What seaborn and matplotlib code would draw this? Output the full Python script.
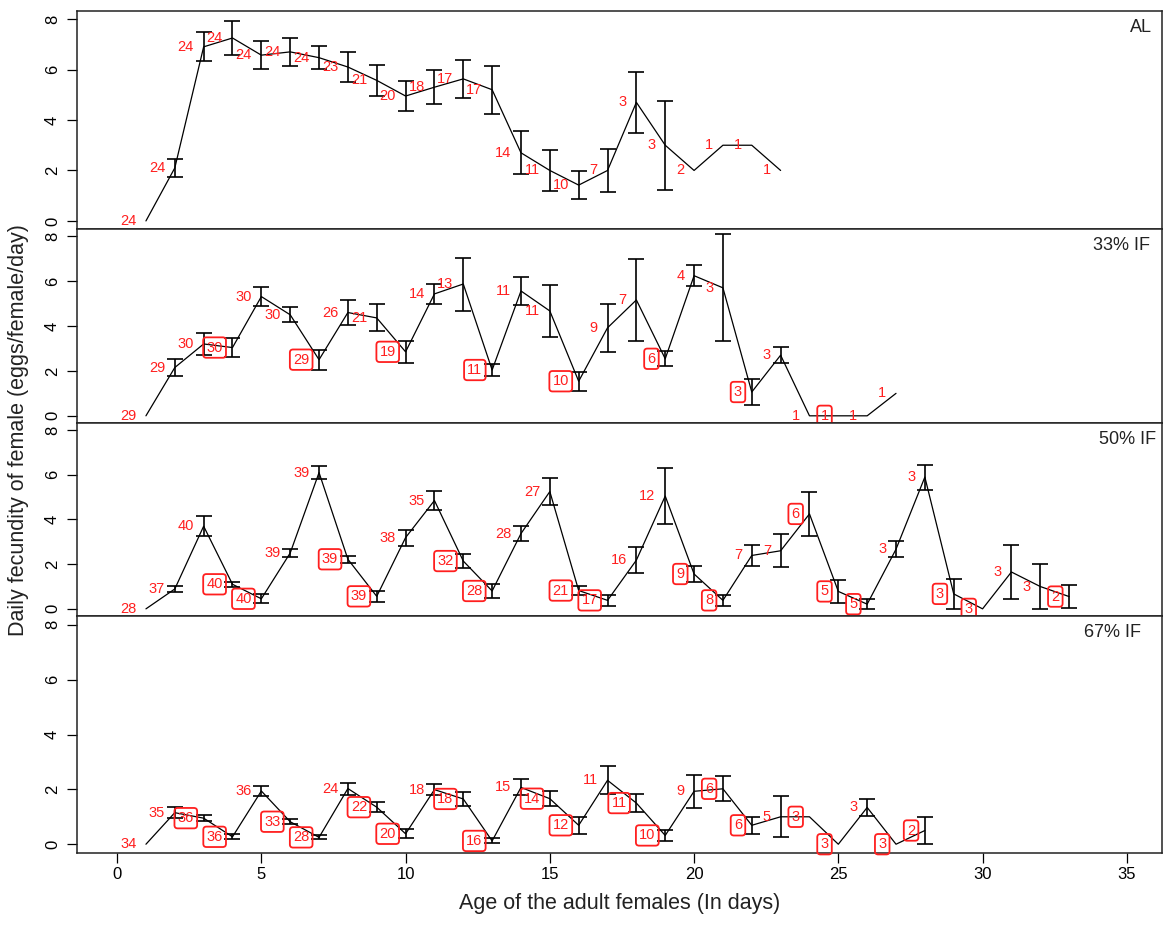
import numpy as np
import pandas as pd
import matplotlib
matplotlib.use("Agg")
import matplotlib.pyplot as plt
import seaborn as sns

nan = np.nan

# ---------------- data ----------------
panel_names = ["AL", "33% IF", "50% IF", "67% IF"]

days_al = list(range(1, 24))
mean_al = [0, 2.1, 6.9, 7.25, 6.57, 6.7, 6.47, 6.1, 5.57, 4.95, 5.3, 5.63, 5.2,
           2.7, 2.0, 1.42, 2.0, 4.7, 3.0, 2.0, 3.0, 3.0, 2.0]
err_al = [nan, 0.34, 0.58, 0.69, 0.56, 0.54, 0.46, 0.6, 0.6, 0.61, 0.67, 0.75, 0.95,
          0.85, 0.8, 0.54, 0.86, 1.2, 1.77, nan, nan, nan, nan]
n_al = [24, 24, 24, 24, 24, 24, 24, 23, 21, 20, 18, 17, 17, 14, 11, 10, 7, 3, 3, 2, 1, 1, 1]
box_al = [0] * 23

days_33 = list(range(1, 28))
mean_33 = [0, 2.15, 3.2, 3.04, 5.31, 4.5, 2.5, 4.6, 4.36, 2.85, 5.43, 5.87, 2.04,
           5.56, 4.67, 1.54, 3.92, 5.16, 2.54, 6.24, 5.7, 1.06, 2.7, 0, 0, 0, 1.0]
err_33 = [nan, 0.39, 0.48, 0.43, 0.44, 0.34, 0.45, 0.57, 0.6, 0.5, 0.45, 1.18, 0.25,
          0.64, 1.16, 0.42, 1.06, 1.84, 0.33, 0.48, 2.39, 0.56, 0.35, nan, nan, nan, nan]
n_33 = [29, 29, 30, 30, 30, 30, 29, 26, 21, 19, 14, 13, 11, 11, 11, 10, 9, 7, 6, 4,
        3, 3, 3, 1, 1, 1, 1]
box_33 = [0, 0, 0, 1, 0, 0, 1, 0, 0, 1, 0, 0, 1, 0, 0, 1, 0, 0, 1, 0, 0, 1, 0, 0, 1, 0, 0]

days_50 = list(range(1, 34))
mean_50 = [0, 0.89, 3.7, 1.1, 0.45, 2.5, 6.1, 2.22, 0.56, 3.19, 4.85, 2.14, 0.8,
           3.37, 5.25, 0.82, 0.38, 2.18, 5.05, 1.56, 0.38, 2.39, 2.6, 4.25, 0.78,
           0.21, 2.67, 5.9, 0.67, 0, 1.65, 1.0, 0.55]
err_50 = [nan, 0.13, 0.45, 0.11, 0.2, 0.18, 0.3, 0.15, 0.25, 0.36, 0.41, 0.33, 0.3,
          0.35, 0.59, 0.2, 0.25, 0.57, 1.27, 0.35, 0.25, 0.48, 0.73, 1.0, 0.5,
          0.21, 0.36, 0.56, 0.68, nan, 1.19, 1.0, 0.5]
n_50 = [28, 37, 40, 40, 40, 39, 39, 39, 39, 38, 35, 32, 28, 28, 27, 21, 17, 16, 12,
        9, 8, 7, 7, 6, 5, 5, 3, 3, 3, 3, 3, 3, 2]
box_50 = [0, 0, 0, 1, 1, 0, 0, 1, 1, 0, 0, 1, 1, 0, 0, 1, 1, 0, 0, 1, 1, 0, 0, 1, 1,
          1, 0, 0, 1, 1, 0, 0, 1]

days_67 = list(range(1, 29))
mean_67 = [0, 1.15, 0.95, 0.27, 1.94, 0.82, 0.25, 2.03, 1.35, 0.38, 1.99, 1.65, 0.12,
           2.07, 1.66, 0.69, 2.33, 1.5, 0.32, 1.93, 2.02, 0.69, 1.0, 1.0, 0, 1.34, 0, 0.5]
err_67 = [nan, 0.19, 0.1, 0.09, 0.19, 0.09, 0.07, 0.22, 0.18, 0.16, 0.21, 0.24, 0.09,
          0.29, 0.27, 0.31, 0.51, 0.33, 0.2, 0.6, 0.45, 0.31, 0.75, nan, nan, 0.31, nan, 0.5]
n_67 = [34, 35, 36, 36, 36, 33, 28, 24, 22, 20, 18, 18, 16, 15, 14, 12, 11, 11, 10, 9,
        6, 6, 5, 3, 3, 3, 3, 2]
box_67 = [0, 0, 1, 1, 0, 1, 1, 0, 1, 1, 0, 1, 1, 0, 1, 1, 0, 1, 1, 0, 1, 1, 0, 1, 1, 0, 1, 1]

y_ticks = [0, 2, 4, 6, 8]
x_ticks = [0, 5, 10, 15, 20, 25, 30, 35]
x_label = "Age of the adult females (In days)"
y_label = "Daily fecundity of female (eggs/female/day)"

# ---------------- figure ----------------
sns.set_theme(style="white")
plt.rcParams["font.family"] = ["Liberation Sans", "DejaVu Sans"]

W, H = 1163, 932
fig = plt.figure(figsize=(W / 100, H / 100), dpi=100)
gs = fig.add_gridspec(4, 1, left=77 / W, right=1162 / W, top=1 - 11 / H,
                      bottom=1 - 853 / H, height_ratios=[218, 194, 193, 237], hspace=0)

panels = [
    (days_al, mean_al, err_al, n_al, box_al),
    (days_33, mean_33, err_33, n_33, box_33),
    (days_50, mean_50, err_50, n_50, box_50),
    (days_67, mean_67, err_67, n_67, box_67),
]
title_right_px = [1152, 1150, 1156, 1141]
red = "#ff1f1f"

for i, (days, mean, err, n, box) in enumerate(panels):
    ax = fig.add_subplot(gs[i])
    df = pd.DataFrame({"day": days, "mean": mean, "err": err, "n": n, "box": box})
    sns.lineplot(data=df, x="day", y="mean", ax=ax, color="black", linewidth=0.9,
                 estimator=None, errorbar=None)
    ax.errorbar(df["day"], df["mean"], yerr=df["err"], fmt="none", ecolor="black",
                elinewidth=1.2, capsize=5.6, capthick=1.2)
    for d, m, nn, b in zip(df["day"], df["mean"], df["n"], df["box"]):
        kw = dict(xytext=(-7, 0), textcoords="offset points", ha="right", va="center",
                  color=red, fontsize=10.5)
        if b:
            kw["bbox"] = dict(boxstyle="round,pad=0.22", fc="none", ec=red, lw=1.3)
        ax.annotate(str(nn), (d, m), **kw)

    ax.set_xlim(-1.39, 36.22)
    ax.set_ylim(-0.32, 8.32)
    ax.set_yticks(y_ticks)
    ax.set_yticklabels([str(v) for v in y_ticks], rotation=90, va="center", fontsize=12)
    ax.tick_params(axis="y", length=7.2, width=0.9, pad=5, colors="black", left=True)
    ax.set_xlabel("")
    ax.set_ylabel("")
    if i < 3:
        ax.set_xticks([])
    else:
        ax.set_xticks(x_ticks)
        ax.set_xticklabels([str(v) for v in x_ticks], fontsize=12)
        ax.tick_params(axis="x", length=7.2, width=0.9, pad=3, colors="black", bottom=True)
    for sp in ax.spines.values():
        sp.set_color("#222222")
        sp.set_linewidth(1.1)
    bb = gs[i].get_position(fig)
    fig.text(title_right_px[i] / W, bb.y1 - 17 / H, panel_names[i], ha="right",
             va="center", fontsize=13, color="#222222")

fig.text(19 / W, 1 - 430 / H, y_label, rotation=90, ha="center", va="center",
         fontsize=15.5, color="#222222")
fig.text(620 / W, 1 - 903 / H, x_label, ha="center", va="center", fontsize=15.5,
         color="#222222")

fig.savefig("out.png", dpi=100)
